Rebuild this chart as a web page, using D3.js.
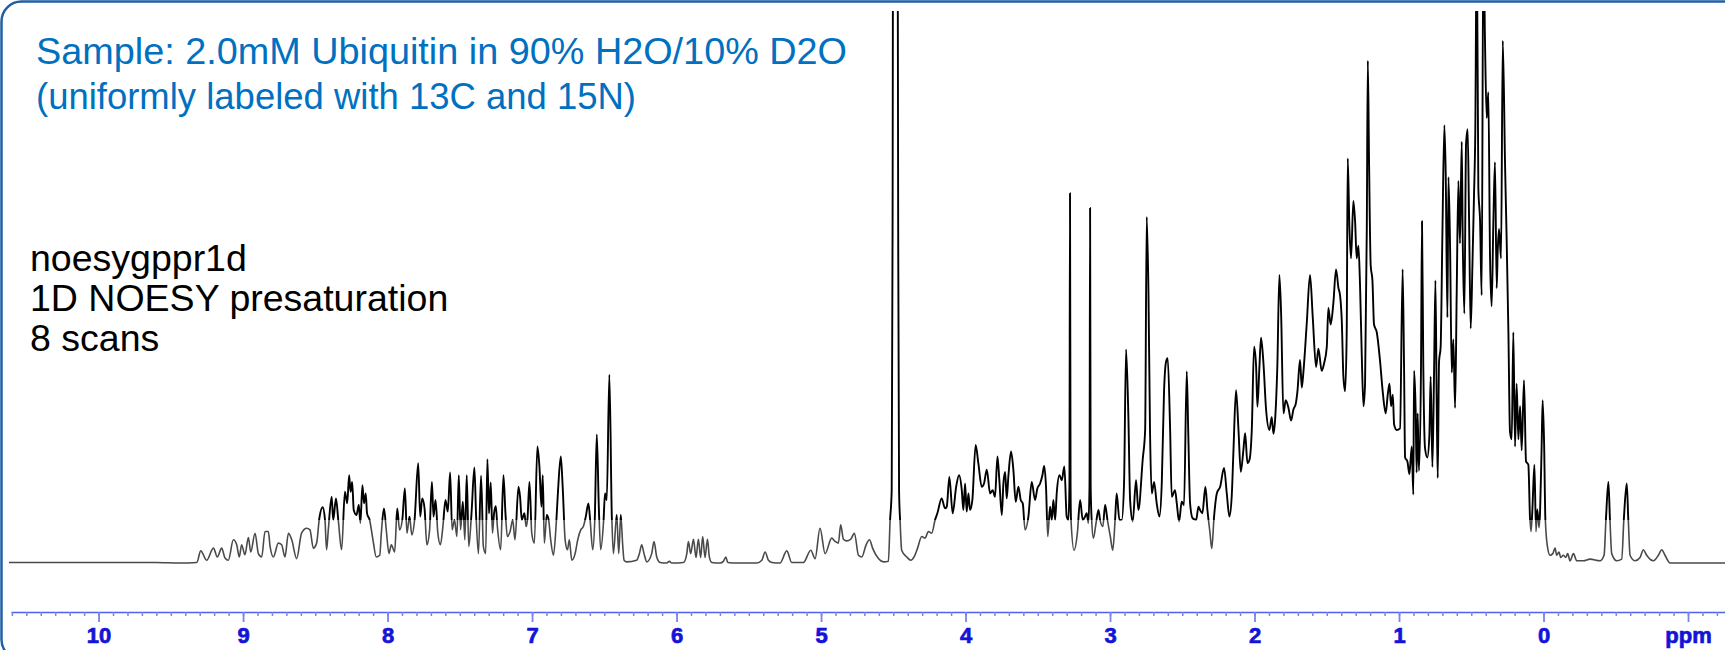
<!DOCTYPE html>
<html>
<head>
<meta charset="utf-8">
<script src="https://cdn.jsdelivr.net/npm/d3@7/dist/d3.min.js"></script>
<style>
body { margin: 0; background: #fff; }
svg { display: block; }
</style>
</head>
<body>
<script>
var width = 1725, height = 650;

// spectrum: [ppm, intensity], intensity 100 = top of plot
var baseLeft = [[10.62,0.1],[9.6,0.1],[9.44,0.0]];

var amideRegion = [[9.32,0.1],[9.293,2.2],[9.252,0.5],[9.205,2.7],[9.178,1.1],[9.148,2.7],[9.125,0.9],[9.102,0.5],[9.067,4.2],[9.044,3.3],[9.026,1.1],[9.010,3.3],[8.987,1.5],[8.963,4.6],[8.947,2.0],[8.917,5.4],[8.894,1.7],[8.871,1.1],[8.848,5.7],[8.825,5.7],[8.813,3.0],[8.790,1.1],[8.756,3.6],[8.733,3.3],[8.710,1.1],[8.686,5.4],[8.663,4.2],[8.629,0.8],[8.595,5.4],[8.560,6.3],[8.537,6.0],[8.514,2.7],[8.491,3.6],[8.472,8.1],[8.449,10.1],[8.433,7.8],[8.422,2.4],[8.410,6.0],[8.387,12.0],[8.376,7.8],[8.357,11.7],[8.341,7.8],[8.318,2.4],[8.295,12.9],[8.279,10.8],[8.266,15.9],[8.256,12.9],[8.245,14.7],[8.234,9.6],[8.215,8.7],[8.199,10.5],[8.188,7.2],[8.174,14.1],[8.163,10.8],[8.151,12.6],[8.142,9.0],[8.124,7.8],[8.101,4.2],[8.078,1.1],[8.054,1.4],[8.043,5.4],[8.025,9.9],[8.009,6.0],[7.990,1.7],[7.974,3.3],[7.951,2.0],[7.933,9.9],[7.917,6.0],[7.898,7.8],[7.880,13.5],[7.866,5.4],[7.848,8.4],[7.832,5.1],[7.813,7.8],[7.788,18.1],[7.774,8.4],[7.760,11.7],[7.744,9.9],[7.728,3.3],[7.709,6.0],[7.693,14.7],[7.682,8.4],[7.668,11.4],[7.652,5.4],[7.634,3.3],[7.617,6.6],[7.599,11.4],[7.583,9.3],[7.567,16.4],[7.553,6.0],[7.537,7.8],[7.520,4.8],[7.507,15.9],[7.495,6.0],[7.479,11.1],[7.465,4.2],[7.452,15.9],[7.438,3.0],[7.419,9.0]];

var aromaticRegion = [[7.399,17.3],[7.387,8.4],[7.371,1.7],[7.353,15.8],[7.337,3.0],[7.321,1.7],[7.309,18.8],[7.298,9.0],[7.286,14.6],[7.274,5.4],[7.263,9.0],[7.251,10.3],[7.240,6.6],[7.217,2.4],[7.198,15.9],[7.184,9.0],[7.171,4.8],[7.152,5.7],[7.134,7.8],[7.118,4.2],[7.094,13.8],[7.083,12.0],[7.071,7.8],[7.053,9.0],[7.041,6.6],[7.032,7.8],[7.018,14.7],[7.002,5.4],[6.984,3.6],[6.963,21.1],[6.949,17.5],[6.935,10.2],[6.926,15.9],[6.915,3.6],[6.898,8.7],[6.885,7.8],[6.871,4.2],[6.852,1.4],[6.834,6.6],[6.820,13.2],[6.801,19.3],[6.788,13.8],[6.771,4.2],[6.755,2.4],[6.742,4.2],[6.725,0.5],[6.702,1.7],[6.684,4.2],[6.663,6.0],[6.645,6.6],[6.628,8.4],[6.610,10.8],[6.598,7.8],[6.580,2.4],[6.566,7.8],[6.552,23.3],[6.538,10.2],[6.525,2.4],[6.506,7.2],[6.495,12.6],[6.483,11.4],[6.465,34.1],[6.448,8.4],[6.437,1.7],[6.414,8.7],[6.400,1.7],[6.386,8.7],[6.372,3.0],[6.363,0.5],[6.345,0.2],[6.276,0.5],[6.257,1.7],[6.241,3.3],[6.225,1.7],[6.206,0.2],[6.172,1.7],[6.156,3.9],[6.137,1.1],[6.114,0.1],[6.068,0.0],[6.049,0.3],[6.033,0.0],[5.952,0.1],[5.929,1.7],[5.918,3.9],[5.902,1.7],[5.883,4.3],[5.865,1.0],[5.849,4.3],[5.833,1.0],[5.819,4.8],[5.803,1.0],[5.786,4.3],[5.773,1.1],[5.756,0.1],[5.699,0.0],[5.676,0.3],[5.659,1.1],[5.646,0.1],[5.583,0.0],[5.445,0.0],[5.410,0.5],[5.387,2.0],[5.364,0.5],[5.340,0.1]];

var alphaRegion = [[5.284,0.0],[5.237,2.2],[5.203,0.1],[5.122,0.1],[5.071,2.3],[5.041,0.8],[5.007,6.3],[4.972,1.7],[4.926,4.5],[4.903,3.9],[4.880,3.6],[4.864,6.9],[4.845,4.3],[4.822,4.0],[4.795,4.3],[4.769,5.4],[4.741,1.4],[4.718,1.1],[4.688,3.3],[4.665,4.2],[4.642,2.6],[4.603,0.8],[4.568,0.2],[4.534,0.3],[4.522,7.8],[4.511,13.2],[4.505,60],[4.500,140],[4.472,140],[4.466,60],[4.460,13],[4.453,7.8],[4.442,2.3],[4.407,1.1],[4.379,0.5],[4.356,1.1],[4.333,2.6],[4.303,4.8],[4.280,4.5],[4.257,5.7],[4.234,5.4],[4.211,7.8],[4.195,9.0],[4.165,11.7],[4.142,9.9],[4.130,10.2],[4.112,15.6],[4.089,9.0],[4.065,13.8],[4.045,15.9],[4.026,13.2],[4.015,9.6],[4.003,14.4],[3.992,9.3],[3.980,12.6],[3.969,9.6],[3.953,11.4],[3.930,21.4],[3.911,18.0],[3.888,13.8],[3.872,14.4],[3.853,16.9],[3.830,12.6],[3.812,13.2],[3.796,12.0],[3.779,19.3],[3.766,15.0]];

var aliphaticRegion = [[3.749,8.7],[3.738,14.4],[3.726,16.5],[3.715,11.7],[3.703,15.9],[3.685,20.2],[3.669,16.9],[3.653,11.1],[3.634,13.8],[3.618,11.4],[3.604,10.8],[3.588,6.0],[3.565,8.4],[3.542,14.7],[3.519,11.4],[3.503,13.5],[3.484,14.4],[3.468,15.9],[3.456,17.6],[3.443,13.8],[3.431,4.8],[3.415,10.2],[3.403,7.8],[3.392,11.4],[3.380,7.8],[3.369,12.6],[3.350,15.9],[3.334,15.0],[3.316,17.5],[3.300,8.4],[3.288,7.8],[3.281,14],[3.277,67.0],[3.273,14],[3.270,7.8],[3.249,2.3],[3.226,5.4],[3.207,11.4],[3.189,7.8],[3.173,8.4],[3.161,9.0],[3.150,7.2],[3.142,14],[3.138,64.3],[3.134,14],[3.127,7.8],[3.115,4.5],[3.097,7.2],[3.080,9.6],[3.069,7.8],[3.050,6.6],[3.034,10.5],[3.018,7.8],[2.998,4.8],[2.981,2.3],[2.965,7.8],[2.954,12.6],[2.935,7.8],[2.919,7.8],[2.903,14.4],[2.889,38.7],[2.873,26.5],[2.861,11.4],[2.843,7.5],[2.820,15.0],[2.804,9.6],[2.774,18.7],[2.757,24.1],[2.746,62.7],[2.734,48.9],[2.723,23.5],[2.711,12.6],[2.695,14.7],[2.677,10.8],[2.658,8.4],[2.642,14.4],[2.626,31.3],[2.612,36.5],[2.601,37.1],[2.584,24.1],[2.573,12.0],[2.550,13.2],[2.538,10.8],[2.522,7.5],[2.504,11.1],[2.488,10.5],[2.469,34.7],[2.458,22.9],[2.446,10.8],[2.428,8.1],[2.404,7.8],[2.388,10.2],[2.377,9.6],[2.361,9.0],[2.340,13.8],[2.326,9.6],[2.308,5.4],[2.296,2.6],[2.280,8.4],[2.261,12.6],[2.238,13.8],[2.211,17.2],[2.192,12.6],[2.174,8.4],[2.158,12.0],[2.146,20.2],[2.128,31.3],[2.111,24.1],[2.095,16.5],[2.077,20.5],[2.065,23.5],[2.049,18.1],[2.035,18.7],[2.019,24.1],[2.003,39.2],[1.989,35.6],[1.980,28.3],[1.966,35.6]];

var methylRegion = [[1.955,40.8],[1.939,36.5],[1.920,27.8],[1.897,24.1],[1.881,26.4],[1.869,23.4],[1.858,25.8],[1.842,35.8],[1.828,52.2],[1.816,45.2],[1.800,27.1],[1.784,29.5],[1.765,28.1],[1.747,25.8],[1.731,27.8],[1.715,28.8],[1.703,31.1],[1.685,36.8],[1.673,31.8],[1.662,34.5],[1.639,43.2],[1.616,52.2],[1.597,44.5],[1.574,35.5],[1.558,38.8],[1.535,34.8],[1.519,36.1],[1.500,39.1],[1.489,46.2],[1.473,43.2],[1.454,47.2],[1.436,53.2],[1.419,49.8],[1.408,48.5],[1.396,43.8],[1.385,33.8],[1.373,31.1],[1.362,41.8],[1.355,73.3],[1.343,60.5],[1.332,55.2],[1.316,65.6],[1.304,61.9],[1.293,55.2],[1.281,57.5],[1.270,50.5],[1.258,37.8],[1.246,28.4],[1.235,32.5],[1.223,60.5],[1.216,91.0],[1.207,71.9],[1.196,53.9],[1.184,51.2],[1.173,43.2],[1.154,41.8],[1.131,36.5],[1.113,31.1],[1.092,27.1],[1.078,30.5],[1.066,32.5],[1.055,28.4],[1.043,30.5],[1.034,25.1],[1.016,24.1]];

var upfieldRegion = [[0.993,24.4],[0.975,53.2],[0.965,35.1],[0.958,19.1],[0.942,18.4],[0.928,16.1],[0.912,21.1],[0.901,12.4],[0.896,34.8],[0.885,27.8],[0.878,16.4],[0.871,27.1],[0.862,16.7],[0.848,35.1],[0.841,61.9],[0.832,35.8],[0.820,20.8],[0.804,19.1],[0.790,23.1],[0.781,33.8],[0.769,17.4],[0.758,33.5],[0.748,51.2],[0.739,28.4],[0.732,15.4],[0.723,36.5],[0.712,39.1],[0.700,59.2],[0.686,79.3],[0.677,70.6],[0.665,44.5],[0.658,69.9],[0.647,57.9],[0.635,34.5],[0.624,40.5],[0.612,28.1],[0.601,48.5],[0.589,69.2],[0.578,57.9],[0.566,76.3],[0.559,58.5],[0.548,45.2],[0.536,75.9],[0.525,78.6],[0.515,61.9],[0.504,42.5],[0.492,53.9],[0.481,66.6],[0.472,78.6],[0.462,115],[0.451,67.9],[0.439,61.9],[0.428,48.5],[0.416,115],[0.405,94.6],[0.393,80.6],[0.382,85.3],[0.370,55.2],[0.359,46.5],[0.347,61.9],[0.336,72.6],[0.324,49.8],[0.317,56.5],[0.308,60.5],[0.294,55.2],[0.282,94.6],[0.266,71.9],[0.255,58.5],[0.243,41.8],[0.232,23.8],[0.220,22.4],[0.209,41.8],[0.197,21.1],[0.186,32.5],[0.174,22.4],[0.162,28.4],[0.151,20.4],[0.135,33.1],[0.121,18.4],[0.105,17.8],[0.093,7.7],[0.086,5.7],[0.077,9.7],[0.063,17.8],[0.052,5.7],[0.043,9.7],[0.031,6.4],[0.024,9.1],[0.013,21.1],[0.006,29.5],[-0.004,21.8],[-0.013,7.7],[-0.027,3.0],[-0.045,1.4],[-0.064,1.7],[-0.080,2.7],[-0.091,1.4],[-0.107,2.0],[-0.119,1.0],[-0.137,1.4],[-0.154,1.0],[-0.167,1.7],[-0.184,0.4],[-0.207,1.7],[-0.230,0.4],[-0.276,0.4],[-0.322,0.7],[-0.391,0.4],[-0.419,1.4],[-0.433,8.4],[-0.449,14.7],[-0.460,7.7],[-0.472,1.7],[-0.507,0.4],[-0.541,0.7],[-0.557,8.4],[-0.576,14.4],[-0.587,7.7],[-0.599,1.4],[-0.633,0.4],[-0.668,1.0],[-0.691,2.4],[-0.714,1.4],[-0.760,0.4],[-0.795,1.4],[-0.818,2.4],[-0.841,1.4],[-0.876,0.0],[-0.968,0.0],[-1.26,0.0]];

var majorTicks = [10, 9, 8, 7, 6, 5, 4, 3, 2, 1, 0, -1];
var tickLabels = ["10", "9", "8", "7", "6", "5", "4", "3", "2", "1", "0", "ppm"];
var sampleLines = ["Sample: 2.0mM Ubiquitin in 90% H2O/10% D2O", "(uniformly labeled with 13C and 15N)"];
var methodLines = ["noesygppr1d", "1D NOESY presaturation", "8 scans"];

var spectrum = baseLeft.concat(amideRegion, aromaticRegion, alphaRegion, aliphaticRegion, methylRegion, upfieldRegion);
spectrum.sort(function(a, b){ return b[0] - a[0]; });

var svg = d3.select("body")
.append("svg")
.attr("width", width)
.attr("height", height)
.attr("id", "svg");

var x = d3.scaleLinear().domain([10.606, -1.256]).range([11, 1725]);
var y = d3.scaleLinear().domain([0, 100]).range([563, 11]);

var defs = svg.append("defs");
defs.append("clipPath").attr("id", "clipUpper")
.append("rect").attr("x", 0).attr("y", 11).attr("width", width).attr("height", 509);
defs.append("clipPath").attr("id", "clipLower")
.append("rect").attr("x", 0).attr("y", 520).attr("width", width).attr("height", 80);

// frame
svg.append("rect")
.attr("x", 1.5).attr("y", 1.5)
.attr("width", 1800).attr("height", 658)
.attr("rx", 20).attr("ry", 20)
.attr("fill", "none")
.attr("stroke", "#1f5fa5")
.attr("stroke-width", 2.5);

var line = d3.line()
.x(function(d){ return x(d[0]); })
.y(function(d){ return y(d[1]); })
.curve(d3.curveMonotoneX);

var mainGroup = svg.append("g").attr("id", "mainGroup");

// lower band of the trace looks grey in the original, upper part black
mainGroup.append("path")
.datum(spectrum)
.attr("d", line)
.attr("fill", "none")
.attr("stroke", "#4a4a4a")
.attr("stroke-width", 1.6)
.attr("stroke-linejoin", "round")
.attr("clip-path", "url(#clipLower)");

mainGroup.append("path")
.datum(spectrum)
.attr("d", line)
.attr("fill", "none")
.attr("stroke", "#000")
.attr("stroke-width", 1.9)
.attr("stroke-linejoin", "round")
.attr("clip-path", "url(#clipUpper)");

// axis
var minorTicks = d3.range(-12, 107).map(function(d){ return d / 10; });
var labelFor = new Map(majorTicks.map(function(t, i){ return [t, tickLabels[i]]; }));

var axisGroup = svg.append("g").attr("transform", "translate(0,612)");

var minorAxis = axisGroup.append("g")
.call(d3.axisBottom(x).tickValues(minorTicks).tickSize(4).tickSizeOuter(0).tickFormat(""));
minorAxis.select(".domain").attr("stroke", "#4f5ff0").attr("stroke-width", 1.6);
minorAxis.selectAll(".tick line").attr("stroke", "#7784f2").attr("stroke-width", 1.5);

var majorAxis = axisGroup.append("g")
.call(d3.axisBottom(x).tickValues(majorTicks).tickSize(10).tickSizeOuter(0)
  .tickFormat(function(d){ return labelFor.get(d); }));
majorAxis.select(".domain").remove();
majorAxis.selectAll(".tick line").attr("stroke", "#7784f2").attr("stroke-width", 1.8);
majorAxis.selectAll(".tick text")
.attr("y", 31).attr("dy", 0)
.attr("fill", "#1414d8")
.attr("stroke", "#1414d8")
.attr("stroke-width", 0.7)
.style("font-family", "'Liberation Sans', Arial, sans-serif")
.style("font-weight", "bold")
.style("font-size", "22px");

// annotations
svg.selectAll(".sample")
.data(sampleLines)
.enter().append("text")
.attr("class", "sample")
.attr("x", 36)
.attr("y", function(d, i){ return 64 + i * 45; })
.attr("fill", "#0070c0")
.attr("textLength", function(d, i){ return [811, 600][i]; })
.attr("lengthAdjust", "spacingAndGlyphs")
.style("font-family", "'Liberation Sans', Arial, sans-serif")
.style("font-size", "37px")
.text(function(d){ return d; });

svg.selectAll(".method")
.data(methodLines)
.enter().append("text")
.attr("class", "method")
.attr("x", 30)
.attr("y", function(d, i){ return 271 + i * 40; })
.attr("fill", "#000")
.style("font-family", "'Liberation Sans', Arial, sans-serif")
.style("font-size", "37.5px")
.text(function(d){ return d; });
</script>
</body>
</html>
